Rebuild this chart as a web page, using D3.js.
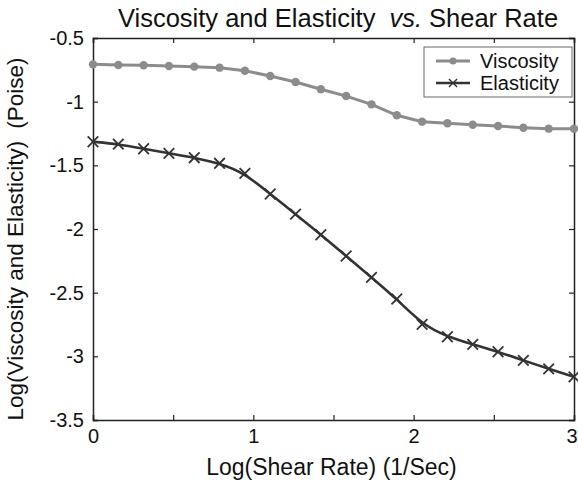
<!DOCTYPE html>
<html>
<head>
<meta charset="utf-8">
<script src="https://cdn.jsdelivr.net/npm/d3@7"></script>
<style>
  body { margin: 0; background: #fff; }
  svg text { font-family: "Liberation Sans", Arial, sans-serif; fill: #111; }
</style>
</head>
<body>
<div id="chart"></div>
<script>
// data: 20 points evenly spaced on log shear rate 0..3
const shearRate = d3.range(20).map(i => i * 3 / 19);
const viscosity = [-0.707, -0.712, -0.714, -0.720, -0.725, -0.733, -0.757, -0.798, -0.846, -0.902,
                   -0.956, -1.021, -1.107, -1.157, -1.170, -1.181, -1.191, -1.205, -1.212, -1.212];
const elasticity = [-1.315, -1.333, -1.370, -1.406, -1.440, -1.484, -1.563, -1.725, -1.883, -2.045,
                    -2.212, -2.380, -2.550, -2.749, -2.846, -2.906, -2.964, -3.032, -3.098, -3.161];
const xTicks = [0, 0.5, 1, 1.5, 2, 2.5, 3];
const yTicks = [-0.5, -1, -1.5, -2, -2.5, -3, -3.5];

const W = 578, H = 481;
const margin = { top: 38, right: 4, bottom: 61, left: 93 };
const width = W - margin.left - margin.right;
const height = H - margin.top - margin.bottom;

const svg = d3.select("#chart").append("svg")
  .attr("width", W).attr("height", H);

const g = svg.append("g")
  .attr("transform", `translate(${margin.left},${margin.top})`);

const x = d3.scaleLinear().domain([0, 3]).range([0, width]);
const y = d3.scaleLinear().domain([-3.5, -0.5]).range([height, 0]);

// axes with inward ticks, matlab style box
const fmt = d => (Number.isInteger(d) ? String(d) : "");
g.append("g").attr("transform", `translate(0,${height})`)
  .call(d3.axisBottom(x).tickValues(xTicks).tickSize(-5).tickPadding(9).tickFormat(fmt))
  .call(a => a.selectAll("text").attr("font-size", 20))
  // last label sits at the window edge, keep it inside
  .call(a => a.selectAll("text").filter(d => d === 3).attr("text-anchor", "end").attr("dx", 3));
g.append("g")
  .call(d3.axisTop(x).tickValues(xTicks).tickSize(-5).tickFormat(""));
g.append("g")
  .call(d3.axisLeft(y).tickValues(yTicks).tickSize(-5).tickPadding(9).tickFormat(d => String(d)))
  .call(a => a.selectAll("text").attr("font-size", 20));
g.append("g").attr("transform", `translate(${width},0)`)
  .call(d3.axisRight(y).tickValues(yTicks).tickSize(-5).tickFormat(""));
g.selectAll(".domain").attr("stroke", "#222").attr("stroke-width", 1.5);
g.selectAll(".tick line").attr("stroke", "#222").attr("stroke-width", 1.2);

// lines
const visData = shearRate.map((s, i) => [s, viscosity[i]]);
const elaData = shearRate.map((s, i) => [s, elasticity[i]]);

g.append("path").datum(visData)
  .attr("fill", "none").attr("stroke", "#8c8c8c").attr("stroke-width", 3)
  .attr("d", d3.line().x(d => x(d[0])).y(d => y(d[1])));
g.selectAll(".vdot").data(visData).enter().append("circle")
  .attr("cx", d => x(d[0])).attr("cy", d => y(d[1])).attr("r", 4.2)
  .attr("fill", "#8c8c8c");

// smooth fit line through the elasticity points
g.append("path").datum(elaData)
  .attr("fill", "none").attr("stroke", "#333").attr("stroke-width", 2.6)
  .attr("d", d3.line().curve(d3.curveBasis).x(d => x(d[0])).y(d => y(d[1])));
const cross = d3.symbol().type(d3.symbolX).size(75);
g.selectAll(".xmark").data(elaData).enter().append("path")
  .attr("transform", d => `translate(${x(d[0])},${y(d[1])})`)
  .attr("d", cross).attr("fill", "#333").attr("stroke", "#333").attr("stroke-width", 1.8);

// legend
const lg = svg.append("g").attr("transform", "translate(424,47)");
lg.append("rect").attr("width", 148).attr("height", 50)
  .attr("fill", "#fff").attr("stroke", "#666").attr("stroke-width", 1);
lg.append("line").attr("x1", 12).attr("x2", 46).attr("y1", 14).attr("y2", 14)
  .attr("stroke", "#8c8c8c").attr("stroke-width", 3);
lg.append("circle").attr("cx", 29).attr("cy", 14).attr("r", 3.5).attr("fill", "#8c8c8c");
lg.append("line").attr("x1", 12).attr("x2", 46).attr("y1", 36).attr("y2", 36)
  .attr("stroke", "#333").attr("stroke-width", 2.4);
lg.append("path").attr("transform", "translate(29,36)")
  .attr("d", d3.symbol().type(d3.symbolX).size(45)).attr("fill", "#333")
  .attr("stroke", "#333").attr("stroke-width", 1.4);
lg.append("text").attr("x", 56).attr("y", 21).attr("font-size", 20).text("Viscosity");
lg.append("text").attr("x", 56).attr("y", 43).attr("font-size", 20).text("Elasticity");

// title and axis labels
const title = svg.append("text").attr("x", 338).attr("y", 27)
  .attr("text-anchor", "middle").attr("font-size", 25.5);
title.append("tspan").text("Viscosity and Elasticity");
title.append("tspan").attr("dx", 14).attr("font-style", "italic").text("vs.");
title.append("tspan").text(" Shear Rate");

svg.append("text").attr("x", margin.left + width / 2 - 2).attr("y", 475)
  .attr("text-anchor", "middle").attr("font-size", 23)
  .text("Log(Shear Rate) (1/Sec)");

const ylab = svg.append("text")
  .attr("transform", `translate(23,239) rotate(-90)`)
  .attr("text-anchor", "middle").attr("font-size", 22.5);
ylab.append("tspan").text("Log(Viscosity and Elasticity)");
ylab.append("tspan").attr("dx", 12).text("(Poise)");
</script>
</body>
</html>
